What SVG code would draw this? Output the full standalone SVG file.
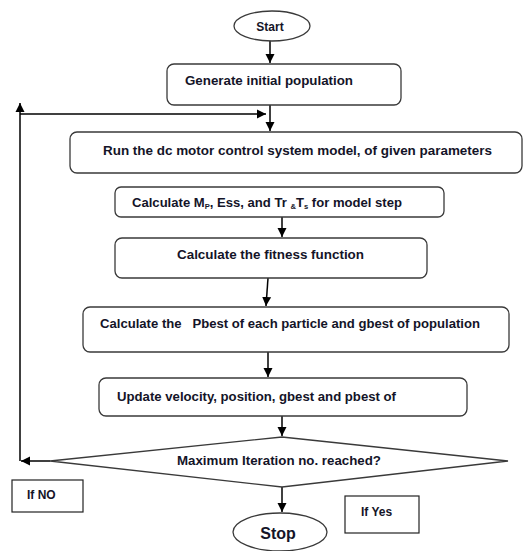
<svg xmlns="http://www.w3.org/2000/svg" width="532" height="551" viewBox="0 0 532 551">
<defs>
<marker id="ah" markerWidth="10" markerHeight="10" refX="9" refY="5" orient="auto" markerUnits="userSpaceOnUse">
<path d="M0,0.5 L9,5 L0,9.5 Z" fill="#000"/>
</marker>
<style>
.box{fill:#fff;stroke:#3a3a3a;stroke-width:1.3}
.plain{fill:#fff;stroke:#222;stroke-width:1.2}
.t{font-family:"Liberation Sans",Arial,sans-serif;font-size:12px;font-weight:bold;fill:#141428}
.big{font-family:"Liberation Sans",Arial,sans-serif;font-size:16px;font-weight:bold;fill:#141428}
.c{fill:none;stroke:#000;stroke-width:1.5}
</style>
</defs>
<rect width="532" height="551" fill="#fff"/>
<g id="connectors">
<line class="c" x1="270" y1="41" x2="270" y2="63" marker-end="url(#ah)"/>
<line class="c" x1="270" y1="105" x2="270" y2="131" marker-end="url(#ah)"/>
<line class="c" x1="20" y1="114" x2="266" y2="114" marker-end="url(#ah)"/>
<line class="c" x1="282" y1="217" x2="282" y2="237" marker-end="url(#ah)"/>
<line class="c" x1="268" y1="278" x2="266" y2="306" marker-end="url(#ah)"/>
<line class="c" x1="268" y1="352" x2="268" y2="377" marker-end="url(#ah)"/>
<line class="c" x1="282" y1="416" x2="282" y2="436" marker-end="url(#ah)"/>
<line class="c" x1="50" y1="461" x2="21" y2="461" marker-end="url(#ah)"/>
<line class="c" x1="20" y1="461" x2="20" y2="103" marker-end="url(#ah)"/>
<line class="c" x1="282" y1="487" x2="282" y2="512" marker-end="url(#ah)"/>
</g>
<g id="start">
<ellipse class="box" cx="272" cy="26" rx="38" ry="15"/>
<text class="t" x="270" y="31" text-anchor="middle">Start</text>
</g>
<g id="generate">
<rect class="box" x="167" y="64" width="234" height="41" rx="7"/>
<text class="t" x="185" y="85" textLength="168" lengthAdjust="spacingAndGlyphs">Generate initial population</text>
</g>
<g id="run">
<rect class="box" x="70" y="132" width="452" height="41" rx="7"/>
<text class="t" x="103" y="155" textLength="389" lengthAdjust="spacingAndGlyphs">Run the dc motor control system model, of given parameters</text>
</g>
<g id="calc-mp">
<rect class="box" x="115" y="187" width="329" height="30" rx="6"/>
<text class="t" x="132" y="207" textLength="270" lengthAdjust="spacingAndGlyphs">Calculate M<tspan font-size="7" dy="2">P</tspan><tspan dy="-2">, Ess, and Tr </tspan><tspan font-size="7" dy="2">&amp;</tspan><tspan dy="-2">T</tspan><tspan font-size="7" dy="2">s</tspan><tspan dy="-2"> for model step</tspan></text>
</g>
<g id="fitness">
<rect class="box" x="115" y="238" width="312" height="40" rx="7"/>
<text class="t" x="177" y="259" textLength="187" lengthAdjust="spacingAndGlyphs">Calculate the fitness function</text>
</g>
<g id="pbest">
<rect class="box" x="83" y="307" width="426" height="45" rx="7"/>
<text class="t" x="100" y="328" textLength="380" lengthAdjust="spacingAndGlyphs" xml:space="preserve">Calculate the   Pbest of each particle and gbest of population</text>
</g>
<g id="update">
<rect class="box" x="99" y="378" width="368" height="38" rx="7"/>
<text class="t" x="117" y="401" textLength="279" lengthAdjust="spacingAndGlyphs">Update velocity, position, gbest and pbest of</text>
</g>
<g id="decision">
<polygon class="box" points="282,437 508,461 282,487 50,461"/>
<text class="t" x="177" y="465" textLength="204" lengthAdjust="spacingAndGlyphs">Maximum Iteration no. reached?</text>
</g>
<g id="if-no">
<rect class="plain" x="12" y="480" width="71" height="32"/>
<text class="t" x="27" y="499">If NO</text>
</g>
<g id="if-yes">
<rect class="plain" x="345" y="496" width="74" height="37"/>
<text class="t" x="361" y="516">If Yes</text>
</g>
<g id="stop">
<ellipse class="box" cx="280" cy="532" rx="47" ry="19"/>
<text class="big" x="278" y="539" text-anchor="middle">Stop</text>
</g>
</svg>
